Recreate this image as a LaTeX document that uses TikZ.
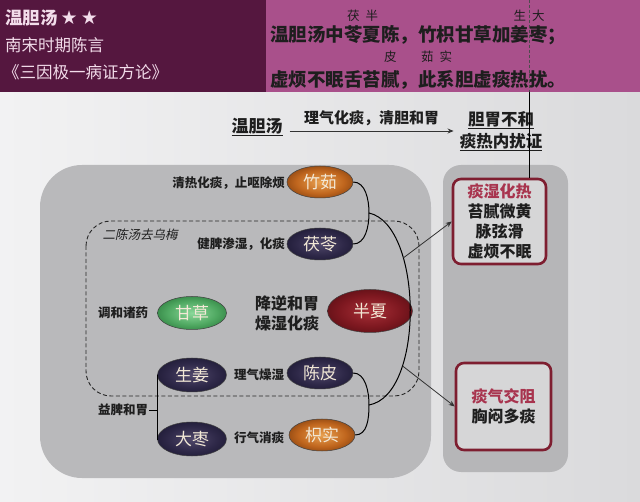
\documentclass[tikz,border=0pt]{standalone}
\usepackage{fontspec}
\setmainfont{Noto Sans CJK SC}
\newfontfamily\cjkit{Noto Sans CJK SC}[FakeSlant=0.22]
\newfontfamily\dejavu{DejaVu Sans}
\usetikzlibrary{shapes.geometric,arrows.meta,calc}

\definecolor{bgl}{HTML}{F2F2F3}
\definecolor{bgr}{HTML}{DADADC}
\definecolor{hdark}{HTML}{55173F}
\definecolor{hpink}{HTML}{A9508B}
\definecolor{htext}{HTML}{F3DDEB}
\definecolor{boxgrey}{HTML}{B9B9BB}
\definecolor{boxgreyb}{HTML}{B6B6B8}
\definecolor{redb}{HTML}{7E1E30}
\definecolor{redfill}{HTML}{D6D6D7}
\definecolor{redtxt}{HTML}{A8344E}
\definecolor{ink}{HTML}{1E1E1E}
\definecolor{pilltext}{HTML}{F2E8D6}

\pgfdeclareradialshading{pillorange}{\pgfpoint{0bp}{0bp}}{color(0bp)=(rgb,255:red,232;green,160;blue,80); color(18bp)=(rgb,255:red,192;green,102;blue,30); color(36bp)=(rgb,255:red,106;green,48;blue,8); color(46bp)=(rgb,255:red,42;green,18;blue,4); color(50bp)=(rgb,255:red,42;green,18;blue,4)}
\pgfdeclareradialshading{pillnavy}{\pgfpoint{0bp}{0bp}}{color(0bp)=(rgb,255:red,80;green,72;blue,106); color(18bp)=(rgb,255:red,46;green,40;blue,72); color(36bp)=(rgb,255:red,21;green,18;blue,42); color(50bp)=(rgb,255:red,8;green,6;blue,15)}
\pgfdeclareradialshading{pillgreen}{\pgfpoint{0bp}{0bp}}{color(0bp)=(rgb,255:red,138;green,216;blue,154); color(18bp)=(rgb,255:red,79;green,168;blue,97); color(36bp)=(rgb,255:red,31;green,106;blue,48); color(50bp)=(rgb,255:red,10;green,42;blue,18)}
\pgfdeclareradialshading{pillred}{\pgfpoint{0bp}{0bp}}{color(0bp)=(rgb,255:red,168;green,48;blue,56); color(18bp)=(rgb,255:red,126;green,24;blue,32); color(36bp)=(rgb,255:red,74;green,10;blue,16); color(50bp)=(rgb,255:red,26;green,2;blue,5)}

\newcommand\rb[3]{\leavevmode\rlap{\makebox[1em]{\raisebox{1.15em}[0pt][0pt]{\mdseries\fontsize{12.5}{12.5}\selectfont #1}}}\rlap{\makebox[1em]{\raisebox{-1.07em}[0pt][0pt]{\mdseries\fontsize{12.5}{12.5}\selectfont #3}}}#2}

\begin{document}
\begin{tikzpicture}[x=1pt,y=-1pt,
  pill/.style={ellipse, minimum width=66pt, minimum height=32pt, inner sep=0pt, text=pilltext,
    font=\fontsize{17}{17}\selectfont, draw=black!75, line width=0.5pt},
  orange/.style={pill, shade, shading=pillorange},
  navy/.style={pill, shade, shading=pillnavy},
  green/.style={pill, shade, shading=pillgreen},
  redp/.style={pill, shade, shading=pillred},
  lab/.style={text=ink, inner sep=1pt, font=\bfseries\fontsize{12.5}{12.5}\selectfont},
  conn/.style={draw=black, line width=1pt},
  arr/.style={draw=black!80, line width=0.8pt, -{Stealth[length=6pt,width=5pt]}},
  redbox/.style={draw=redb, line width=2.6pt, fill=redfill, rounded corners=8pt, align=center,
    text=ink, font=\bfseries\fontsize{16}{20}\selectfont, inner sep=2pt}
]
\useasboundingbox (0,0) rectangle (640,502);
\shade[left color=bgl, right color=bgr] (0,0) rectangle (640,502);

% header
\fill[hdark] (0,0) rectangle (266,92);
\fill[hpink] (266,0) rectangle (640,92);
\node[anchor=west, text=htext, inner sep=0pt, font=\bfseries\fontsize{17.5}{17.5}\selectfont] (t1) at (5,18) {温胆汤\,{\dejavu\fontsize{19}{19}\selectfont ★\,★}};
\node[anchor=west, text=htext, inner sep=0pt, font=\fontsize{16.5}{16.5}\selectfont] (t2) at (5,45) {南宋时期陈言};
\node[anchor=west, text=htext, inner sep=0pt, font=\fontsize{16.5}{16.5}\selectfont] (t3) at (3,72) {《三因极一病证方论》};
\node[anchor=west, text=ink, inner sep=0pt, font=\bfseries\fontsize{18.5}{18.5}\selectfont] (h1) at (270,35)
  {温胆汤中\rb{茯}{苓}{}\rb{半}{夏}{}\rb{}{陈}{皮}，\rb{}{竹}{茹}\rb{}{枳}{实}甘草加\rb{生}{姜}{}\rb{大}{枣}{}；};
\node[anchor=west, text=ink, inner sep=0pt, font=\bfseries\fontsize{18.5}{18.5}\selectfont] (h2) at (270,80)
  {虚烦不眠舌苔腻，此系胆虚痰热扰。};

% title row
\node[text=ink, inner sep=1pt, font=\bfseries\fontsize{17}{17}\selectfont] (wdt) at (257,127) {\underline{温胆汤}};
\node[text=ink, inner sep=1pt, align=center, font=\bfseries\fontsize{16.5}{22}\selectfont] (zheng) at (501,131)
  {\underline{胆胃不和}\\\underline{痰热内扰证}};
\draw[arr] ([xshift=6pt]wdt.east |- zheng.west) -- ([xshift=-5pt]zheng.west)
  node[midway, above=1pt, text=ink, font=\bfseries\fontsize{15}{15}\selectfont] {理气化痰，清胆和胃};

% containers
\fill[boxgrey, rounded corners=42pt] (40,165) rectangle (431,478);
\fill[boxgreyb, rounded corners=18pt] (443,165) rectangle (568,472);
\draw[black!85, line width=0.9pt, dash pattern=on 4pt off 2.5pt, rounded corners=25pt] (86,221) rectangle (419,396);

% right result boxes
\node[redbox, minimum width=93pt, minimum height=85pt] (rb1) at (499.5,221.5)
  {\textcolor{redtxt}{痰湿化热}\\苔腻微黄\\脉弦滑\\虚烦不眠};
\node[redbox, minimum width=95pt, minimum height=87pt] (rb2) at (503.5,406.5)
  {\textcolor{redtxt}{痰气交阻}\\胸闷多痰};

% vertical guide line
\coordinate (v0) at (529,0);
\coordinate (v1) at (529,92);
\draw[black!70, line width=0.6pt, dash pattern=on 3pt off 2pt] (v0) -- (v1);
\draw[black, line width=0.7pt] (v1) -- (v1 |- rb1.north);

% pills
\node[orange] (zr) at (320,182) {竹茹};
\node[navy] (fl) at (320,244) {茯苓};
\node[green, minimum width=69pt, minimum height=33pt] (gc) at (192,313) {甘草};
\node[redp, minimum width=85pt, minimum height=43pt] (bx) at (370,311) {半夏};
\node[navy, minimum width=69pt, minimum height=34pt] (sj) at (192,375) {生姜};
\node[navy] (cp) at (320,373) {陈皮};
\node[navy, minimum width=69pt, minimum height=34pt] (dz) at (192,439) {大枣};
\node[orange] (zs) at (322,435) {枳实};

% labels
\node[lab, anchor=east] (l1) at (286,183) {清热化痰，止呕除烦};
\node[lab, anchor=east] (l2) at (286,244) {健脾渗湿，化痰};
\node[lab] (l3) at (123,313) {调和诸药};
\node[text=ink, inner sep=1pt, align=center, font=\bfseries\fontsize{16}{20}\selectfont] (l4) at (287,313) {降逆和胃\\燥湿化痰};
\node[lab] (l5) at (259,375) {理气燥湿};
\node[lab] (ypt) at (123,410) {益脾和胃};
\node[lab] (l7) at (259,438) {行气消痰};
\node[text=ink, inner sep=1pt, font=\cjkit\fontsize{12.5}{12.5}\selectfont] (l8) at (140,235) {二陈汤去乌梅};

% bracket
\coordinate (yp) at (157,410);
\draw[conn, line width=0.8pt] (sj.west) -- (sj.west -| yp) -- (dz.west -| yp) -- (dz.west);
\draw[conn, line width=0.8pt] (ypt.east) -- (yp);

% connectors
\coordinate (j1) at (369,213);
\coordinate (j2) at (369,405);
\draw[conn] (zr.east) .. controls +(12,0) and +(0,-14) .. (j1) .. controls +(0,14) and +(12,0) .. (fl.east);
\draw[conn] (cp.east) .. controls +(12,0) and +(0,-14) .. (j2) .. controls +(0,14) and +(12,0) .. (zs.east);
\draw[conn] (j1) .. controls +(54,12) and +(56,-10) .. (j2)
  coordinate[pos=0.3] (b1) coordinate[pos=0.72] (b2);
\draw[arr] (b1) -- (rb1.west);
\draw[arr] (b2) -- (rb2.west);
\end{tikzpicture}
\end{document}
